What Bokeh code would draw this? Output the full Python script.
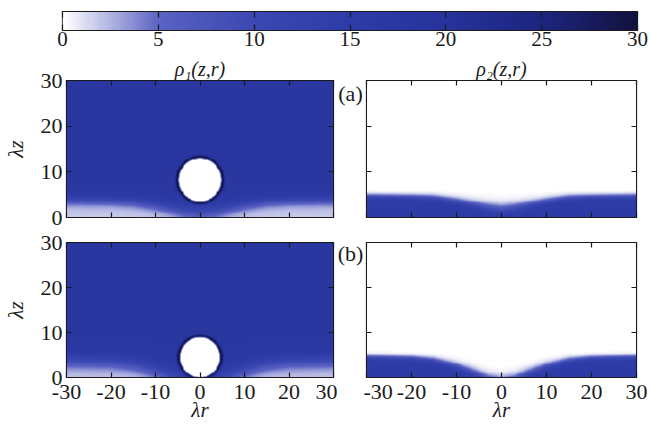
import numpy as np
from bokeh.plotting import figure
from bokeh.models import LinearColorMapper, LinearAxis, Range1d, FixedTicker, Label
from bokeh.layouts import column, row
from bokeh.embed import file_html
from bokeh.resources import INLINE

# ---------------- values ----------------
cbar_ticks = [0, 5, 10, 15, 20, 25, 30]
cmap_vals = [0, 5, 10, 15, 20, 25, 30]
cmap_cols = ["#ffffff", "#5a62c2", "#3b48b2", "#2e3ca8", "#27339b", "#1d2580", "#12123e"]

r_ticks = [-30, -20, -10, 0, 10, 20, 30]
z_ticks = [0, 10, 20, 30]

bulk_rho1 = 17.5          # density of component 1 in bulk
strip_rho2 = 15.5         # density of component 2 in bottom layer
circle_z = [8.2, 4.4]     # bubble centre height, cases (a), (b)
circle_R = [4.7, 4.4]     # bubble radius
ring_peak = [14.0, 14.0]  # density excess at bubble edge
layer1_extra_w = [0.3, 0.6]

prof_r = [-30, -20, -15, -10, -6, -3, 0, 3, 6, 10, 15, 20, 30]
layer_h_a = [4.6, 4.5, 4.3, 3.6, 2.8, 2.2, 1.8, 2.2, 2.8, 3.6, 4.3, 4.5, 4.6]
layer_h_b = [4.5, 4.3, 3.8, 2.5, 1.0, -0.3, -0.8, -0.3, 1.0, 2.5, 3.8, 4.3, 4.5]
layer_w_a = [0.3, 0.3, 0.35, 0.4, 0.5, 0.6, 0.65, 0.6, 0.5, 0.4, 0.35, 0.3, 0.3]
layer_w_b = [0.3, 0.3, 0.35, 0.45, 0.55, 0.6, 0.6, 0.6, 0.55, 0.45, 0.35, 0.3, 0.3]

FONT = "Liberation Serif"
INK = "#1a1a1a"

# ---------------- colour map ----------------
def hex2rgb(h):
    return [int(h[i:i + 2], 16) for i in (1, 3, 5)]

rgb = np.array([hex2rgb(c) for c in cmap_cols], dtype=float)
palette = []
for v in np.linspace(0, 30, 256):
    c = [int(round(np.interp(v, cmap_vals, rgb[:, k]))) for k in range(3)]
    palette.append("#%02x%02x%02x" % tuple(c))
mapper = LinearColorMapper(palette=palette, low=0, high=30)

# ---------------- density fields ----------------
nr, nz = 300, 150
R, Z = np.meshgrid(np.linspace(-30, 30, nr), np.linspace(0, 30, nz))

def fields(k, hprof, wprof):
    h = np.interp(R, prof_r, hprof)
    w = np.interp(R, prof_r, wprof)
    rho2 = strip_rho2 / (1.0 + np.exp((Z - h) / w))
    L1 = 1.0 / (1.0 + np.exp((Z - (h - 0.9)) / (w + layer1_extra_w[k])))
    rho1 = bulk_rho1 * (1 - 0.9 * L1)
    d = np.sqrt(R ** 2 + (Z - circle_z[k]) ** 2)
    g = np.clip((d - circle_R[k]) / 0.3, 0, 1)
    ring = ring_peak[k] * np.exp(-((d - circle_R[k] - 0.35) / 0.4) ** 2)
    rho1 = g * (rho1 + ring)
    return rho1.astype(np.float32), rho2.astype(np.float32)

rho1_a, rho2_a = fields(0, layer_h_a, layer_w_a)
rho1_b, rho2_b = fields(1, layer_h_b, layer_w_b)

# ---------------- helpers ----------------
def style_axis(ax, ticks, labels=True, tick_in=5, size="22px", standoff=4):
    ax.ticker = FixedTicker(ticks=ticks)
    ax.major_tick_in = tick_in
    ax.major_tick_out = 0
    ax.minor_tick_in = 0
    ax.minor_tick_out = 0
    ax.axis_line_color = INK
    ax.major_tick_line_color = INK
    ax.major_tick_line_width = 1.2
    ax.major_label_text_font = FONT
    ax.major_label_text_color = INK
    if labels:
        ax.major_label_text_font_size = size
        ax.major_label_standoff = standoff
    else:
        ax.major_label_text_font_size = "0px"
        ax.major_label_text_alpha = 0
        ax.major_label_text_color = None
        ax.major_label_standoff = 0

def tag_fig(width, height, top, bottom, text, yoff):
    p = figure(width=width, height=height, x_range=Range1d(0, 1), y_range=Range1d(0, 1),
               output_backend="svg", toolbar_location=None,
               x_axis_location=None, y_axis_location=None,
               min_border_left=0, min_border_right=0, min_border_top=top, min_border_bottom=bottom)
    p.outline_line_color = None
    p.grid.visible = False
    p.add_layout(Label(x=0.5, y=1, y_offset=yoff, text=text, text_align="center",
                       text_baseline="top", text_font=FONT, text_font_size="22px",
                       text_color=INK))
    return p

def panel(img, width, height, bl, br, bt, bb, xlab, ylab, title=None):
    p = figure(width=width, height=height, x_range=Range1d(-30, 30), y_range=Range1d(0, 30),
               output_backend="svg", toolbar_location=None,
               min_border_left=bl, min_border_right=br, min_border_top=bt, min_border_bottom=bb)
    p.image(image=[img], x=-30, y=0, dw=60, dh=30, color_mapper=mapper)
    p.grid.visible = False
    p.outline_line_color = INK
    p.outline_line_width = 1.2
    style_axis(p.xaxis[0], r_ticks, labels=xlab, standoff=7)
    p.xaxis[0].major_label_overrides = {t: str(t) for t in r_ticks}
    style_axis(p.yaxis[0], z_ticks, labels=ylab, standoff=4)
    if xlab:
        p.xaxis.axis_label = "λr"
        p.xaxis.axis_label_text_font = FONT
        p.xaxis.axis_label_text_font_style = "italic"
        p.xaxis.axis_label_text_font_size = "21px"
        p.xaxis.axis_label_text_color = INK
        p.xaxis.axis_label_standoff = -4
    if ylab:
        p.yaxis.axis_label = "λz"
        p.yaxis.axis_label_text_font = FONT
        p.yaxis.axis_label_text_font_style = "italic"
        p.yaxis.axis_label_text_font_size = "21px"
        p.yaxis.axis_label_text_color = INK
        p.yaxis.axis_label_standoff = 10
    top = LinearAxis()
    style_axis(top, r_ticks, labels=False)
    p.add_layout(top, "above")
    rt = LinearAxis()
    style_axis(rt, z_ticks, labels=False)
    p.add_layout(rt, "right")
    if title:
        p.title.text = title
        p.title.text_font = FONT
        p.title.text_font_style = "italic"
        p.title.text_font_size = "20px"
        p.title.text_color = INK
        p.title.align = "center"
        p.title.standoff = 1
        p.title.offset = 0
    return p

# ---------------- colour bar ----------------
cb = figure(width=651, height=55, x_range=Range1d(0, 30), y_range=Range1d(0, 1),
            output_backend="svg", toolbar_location=None,
            min_border_left=62, min_border_right=14, min_border_top=11, min_border_bottom=25)
cb.image(image=[np.linspace(0, 30, 300, dtype=np.float32)[None, :]], x=0, y=0, dw=30, dh=1,
         color_mapper=mapper)
cb.grid.visible = False
cb.yaxis.visible = False
cb.outline_line_color = INK
cb.outline_line_width = 1.2
style_axis(cb.xaxis[0], cbar_ticks, labels=True, tick_in=6, size="21px", standoff=1)
cbt = LinearAxis()
style_axis(cbt, cbar_ticks, labels=False, tick_in=6)
cb.add_layout(cbt, "above")

# ---------------- panels ----------------
tl = panel(rho1_a, 337, 175, 62, 4, 25, 13, False, True, title="ρ₁(z,r)")
ta = tag_fig(26, 175, 25, 13, "(a)", 0)
tr = panel(rho2_a, 288, 175, 3, 15, 25, 13, False, False, title="ρ₂(z,r)")
bl_ = panel(rho1_b, 337, 197, 62, 4, 12, 50, True, True)
tb = tag_fig(26, 197, 12, 50, "(b)", 2)
br_ = panel(rho2_b, 288, 197, 3, 15, 12, 50, True, False)

layout = column(cb, row(tl, ta, tr), row(bl_, tb, br_))
open("out.html", "w").write(file_html(layout, INLINE))
